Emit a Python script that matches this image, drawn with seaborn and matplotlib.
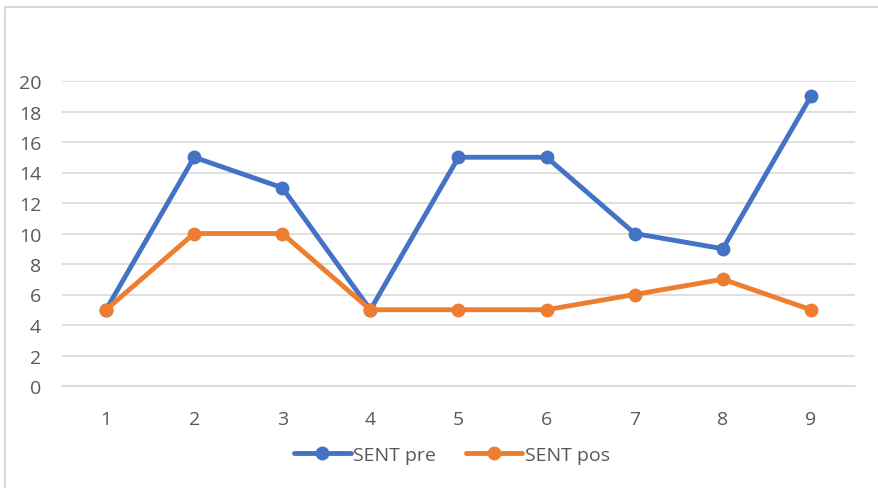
import matplotlib
matplotlib.use("Agg")
import matplotlib.pyplot as plt
import seaborn as sns
import pandas as pd
from matplotlib.lines import Line2D

categories = [1, 2, 3, 4, 5, 6, 7, 8, 9]
sent_pre = [5, 15, 13, 5, 15, 15, 10, 9, 19]
sent_pos = [5, 10, 10, 5, 5, 5, 6, 7, 5]
y_ticks = [0, 2, 4, 6, 8, 10, 12, 14, 16, 18, 20]

sns.set_theme(style="white")
plt.rcParams['font.family'] = ['Open Sans', 'DejaVu Sans']

fig = plt.figure(figsize=(8.79, 4.89), dpi=100)
ax = fig.add_axes([62/879, 102/489, (855-62)/879, (387-82)/489])

df = pd.DataFrame({"x": categories * 2,
                   "y": sent_pre + sent_pos,
                   "serie": ["SENT pre"] * 9 + ["SENT pos"] * 9})
sns.lineplot(data=df, x="x", y="y", hue="serie",
             palette={"SENT pre": "#4472C4", "SENT pos": "#ED7D31"},
             marker="o", markersize=10, markeredgewidth=0, linewidth=3.5,
             ax=ax, legend=True)

ax.set_xlim(0.5, 9.5)
ax.set_ylim(0, 20)
ax.set_yticks(y_ticks)
ax.set_xticks(categories)
ax.set_xticklabels([str(c) for c in categories])
ax.grid(axis="y", color="#D9D9D9", linewidth=1.2)
ax.set_axisbelow(True)
for s in ["top", "right", "left"]:
    ax.spines[s].set_visible(False)
ax.spines["bottom"].set_color("#D9D9D9")
ax.spines["bottom"].set_linewidth(1.2)
ax.tick_params(axis="both", length=0, labelsize=14, colors="#595959")
ax.tick_params(axis="y", pad=15)
ax.tick_params(axis="x", pad=17)
ax.set_xlabel("")
ax.set_ylabel("")

leg = ax.legend(loc="center", bbox_to_anchor=(452/879, 1 - 456/489),
                bbox_transform=fig.transFigure, ncol=2,
                frameon=False, fontsize=14, handlelength=2.9,
                handletextpad=0.15, columnspacing=1.5)
for t in leg.get_texts():
    t.set_color("#595959")

# chart border (top and left edges visible in the frame)
fig.add_artist(Line2D([5/879, 1.0], [1 - 8/489, 1 - 8/489], transform=fig.transFigure,
                      color="#D9D9D9", linewidth=1.5))
fig.add_artist(Line2D([5/879, 5/879], [0.0, 1 - 8/489], transform=fig.transFigure,
                      color="#D9D9D9", linewidth=1.5))

fig.savefig("out.png", dpi=100)
